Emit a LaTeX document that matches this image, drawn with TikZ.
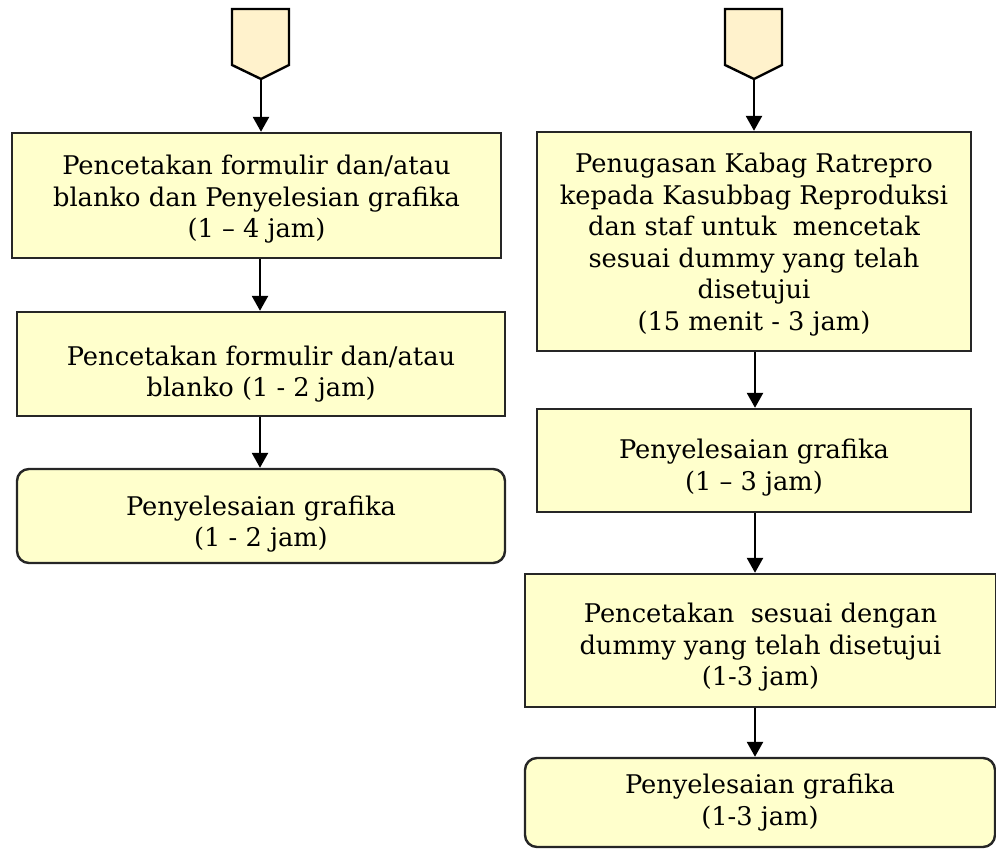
\documentclass[tikz,border=0pt]{standalone}
\usepackage{fontspec}
\setmainfont{DejaVu Serif}
\usetikzlibrary{arrows.meta}
\definecolor{boxfill}{HTML}{FFFFCC}
\definecolor{pentfill}{HTML}{FFF2CC}
\tikzset{
  box/.style={draw=black!85, line width=2.4pt, fill=boxfill, inner sep=0pt},
  rbox/.style={box, rounded corners=12pt},
  txt/.style={align=center, inner sep=0pt, font=\fontsize{25.7}{31.5}\selectfont},
  arr/.style={line width=2.6pt, -{Triangle[length=15pt,width=16pt]}},
  pent/.style={draw=black, line width=2.4pt, fill=pentfill, line join=miter},
}
\begin{document}
\begin{tikzpicture}[x=1pt,y=-1pt]
\useasboundingbox (0,0) rectangle (996,850);
% off-page connectors
\draw[pent] (232,9) -- (289,9) -- (289,65) -- (261,79) coordinate (p1) -- (232,65) -- cycle;
\draw[pent] (725,9) -- (782,9) -- (782,65) -- (754,79) coordinate (p2) -- (725,65) -- cycle;
% left column boxes
\node[box, minimum width=489pt, minimum height=125pt] (L1) at (256.5,195.5) {};
\node[box, minimum width=488pt, minimum height=104pt] (L2) at (261,364) {};
\node[rbox, minimum width=488pt, minimum height=94pt] (L3) at (261,516) {};
% right column boxes
\node[box, minimum width=434pt, minimum height=219pt] (R1) at (754,241.5) {};
\node[box, minimum width=434pt, minimum height=103pt] (R2) at (754,460.5) {};
\node[box, minimum width=471pt, minimum height=133pt] (R3) at (760.5,640.5) {};
\node[rbox, minimum width=470pt, minimum height=89pt] (R4) at (760,802.5) {};
% texts
\node[txt] (tL1) at ([yshift=-4pt]L1.center) {Pencetakan formulir dan/atau\\blanko dan Penyelesian grafika\\(1 -- 4 jam)};
\node[txt] (tL2) at ([yshift=-10pt]L2.center) {Pencetakan formulir dan/atau\\blanko (1 - 2 jam)};
\node[txt] (tL3) at ([yshift=-8pt]L3.center) {Penyelesaian grafika\\(1 - 2 jam)};
\node[txt] (tR1) at ([yshift=-3pt]R1.center) {Penugasan Kabag Ratrepro\\kepada Kasubbag Reproduksi\\dan staf untuk\ \ mencetak\\sesuai dummy yang telah\\disetujui\\(15 menit - 3 jam)};
\node[txt] (tR2) at ([yshift=-7pt]R2.center) {Penyelesaian grafika\\(1 -- 3 jam)};
\node[txt] (tR3) at ([yshift=-7pt]R3.center) {Pencetakan\ \ sesuai dengan\\dummy yang telah disetujui\\(1-3 jam)};
\node[txt] (tR4) at (R4.center) {Penyelesaian grafika\\(1-3 jam)};
% connectors
\coordinate (cl) at (260,0);
\coordinate (cr) at (755,0);
\draw[arr] (p1) -- (p1 |- L1.north);
\draw[arr] (L1.south -| cl) -- (L2.north -| cl);
\draw[arr] (L2.south -| cl) -- (L3.north -| cl);
\draw[arr] (p2) -- (p2 |- R1.north);
\draw[arr] (R1.south -| cr) -- (R2.north -| cr);
\draw[arr] (R2.south -| cr) -- (R3.north -| cr);
\draw[arr] (R3.south -| cr) -- (R4.north -| cr);
\end{tikzpicture}
\end{document}
